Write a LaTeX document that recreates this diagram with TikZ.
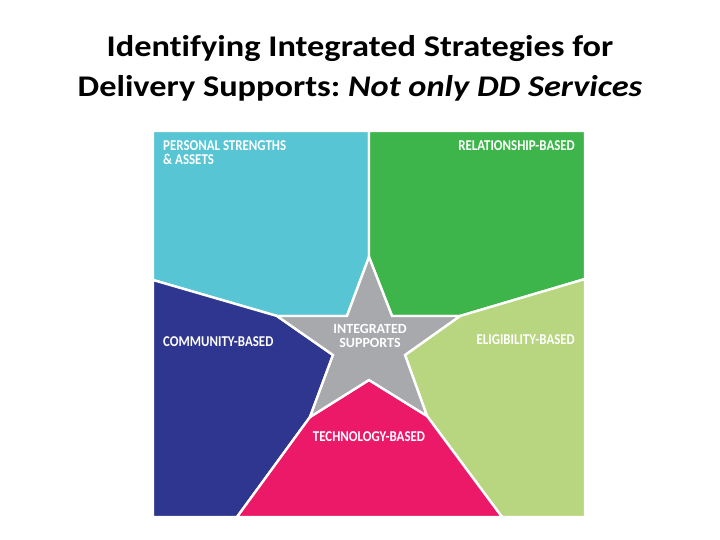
\documentclass[tikz,border=0pt]{standalone}
\usepackage{fontspec}
\setmainfont{Carlito}[Ligatures=NoCommon]
\newfontfamily\titlefont{Carlito}[FakeStretch=1.145, Ligatures=NoCommon]
\newfontfamily\partfont{Carlito}[FakeStretch=0.86, Ligatures=NoCommon]
\usetikzlibrary{positioning}
\definecolor{cyanpart}{HTML}{57C5D4}
\definecolor{greenpart}{HTML}{3DB54A}
\definecolor{bluepart}{HTML}{2E368F}
\definecolor{limepart}{HTML}{B8D57F}
\definecolor{pinkpart}{HTML}{EC1868}
\definecolor{starpart}{HTML}{A7A9AC}
\tikzset{
	part/.style={draw=white, line width=2.4pt, line join=miter},
	partlabel/.style={text=white, font=\partfont\fontsize{15}{14}\selectfont\bfseries, inner sep=0pt, align=left},
	titletext/.style={font=\titlefont\fontsize{30}{40}\selectfont\bfseries\frenchspacing, align=center, inner sep=0pt}
}

\begin{document}
\begin{tikzpicture}[x=1pt, y=-1pt] % {{{
\useasboundingbox (0,0) rectangle (720,540);
% title
\node[titletext] (title) at (360,68) {Identifying Integrated Strategies for\\Delivery Supports: \textit{Not only DD Services}};
% star points
\coordinate (sT) at (369,257);
\coordinate (sL) at (277,316);
\coordinate (sR) at (460,316);
\coordinate (sBL) at (310,417);
\coordinate (sBR) at (427,416);
\coordinate (iTL) at (347,316);
\coordinate (iTR) at (392,316);
\coordinate (iL) at (333,355);
\coordinate (iR) at (405,355);
\coordinate (iB) at (369,380);
% parts of the square
\fill[white] (153,131) rectangle (585,517);
\fill[cyanpart, part] (153,131) -- (369,131) -- (sT) -- (iTL) -- (sL) -- (153,280) -- cycle;
\fill[greenpart, part] (369,131) -- (585,131) -- (585,279) -- (sR) -- (iTR) -- (sT) -- cycle;
\fill[bluepart, part] (153,280) -- (sL) -- (iL) -- (sBL) -- (237,517) -- (153,517) -- cycle;
\fill[limepart, part] (585,279) -- (sR) -- (iR) -- (sBR) -- (502,517) -- (585,517) -- cycle;
\fill[pinkpart, part] (237,517) -- (sBL) -- (iB) -- (sBR) -- (502,517) -- cycle;
\fill[starpart, part] (sT) -- (iTR) -- (sR) -- (iR) -- (sBR) -- (iB) -- (sBL) -- (iL) -- (sL) -- (iTL) -- cycle;
% cover the outer edge again
\draw[white, line width=1.2pt] (153,131) rectangle (585,517);
% labels
\node[partlabel, anchor=north west] (personal) at (163,140) {PERSONAL STRENGTHS\\\& ASSETS};
\node[partlabel, anchor=north east] (relation) at (575,140) {RELATIONSHIP-BASED};
\node[partlabel, anchor=west] (community) at (163,342) {COMMUNITY-BASED};
\node[partlabel, anchor=east] (eligible) at (575,340) {ELIGIBILITY-BASED};
\node[partlabel, anchor=center] (techno) at (369,437) {TECHNOLOGY-BASED};
\node[partlabel, align=center, font=\fontsize{14}{14}\selectfont\bfseries] (integrated) at (370,336) {INTEGRATED\\SUPPORTS};
\end{tikzpicture} % }}}
\end{document}
